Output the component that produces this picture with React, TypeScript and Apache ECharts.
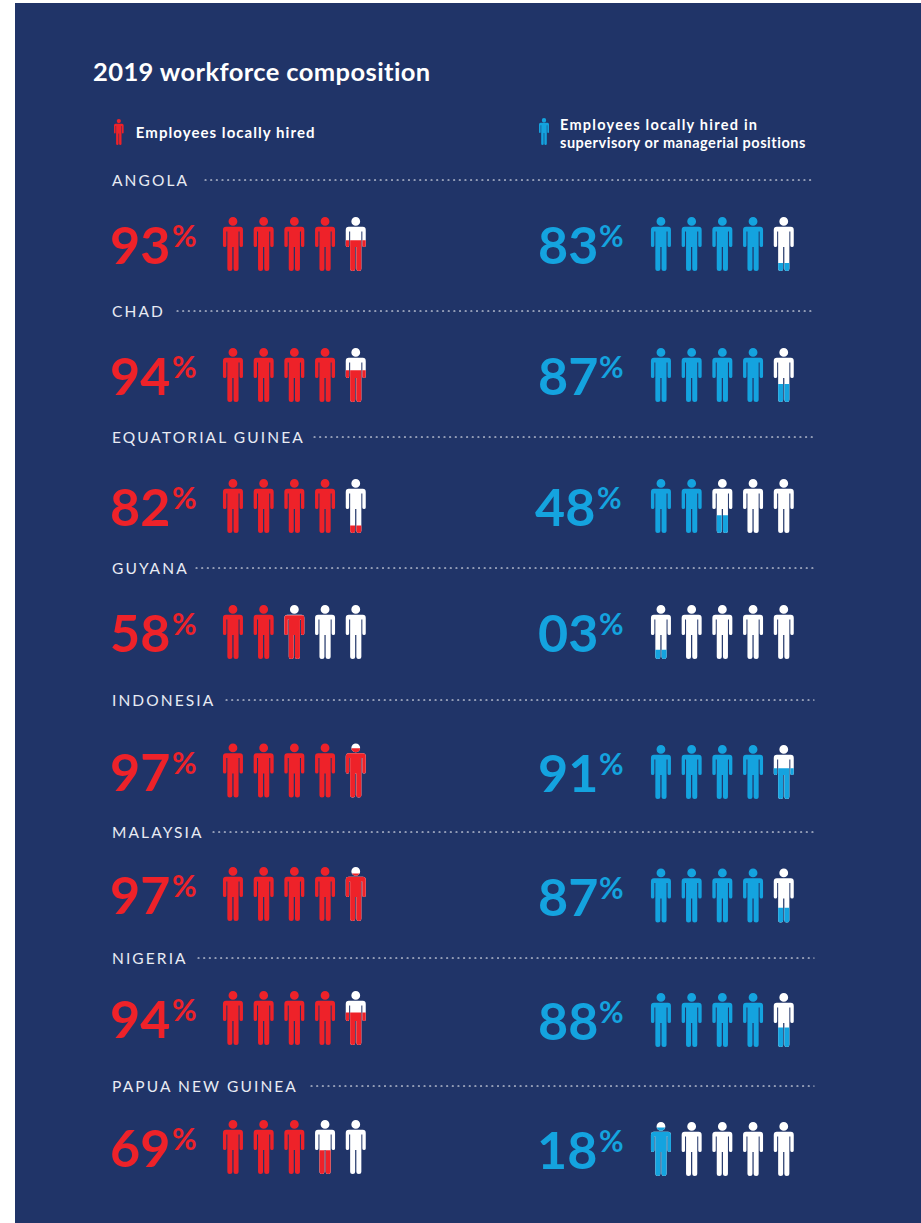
import React, { useEffect, useRef } from "react";
import * as echarts from "echarts";

const countries = ["ANGOLA", "CHAD", "EQUATORIAL GUINEA", "GUYANA", "INDONESIA", "MALAYSIA", "NIGERIA", "PAPUA NEW GUINEA"];
const localHired = [93, 94, 82, 58, 97, 97, 94, 69];
const managerial = [83, 87, 48, 3, 91, 87, 88, 18];
// how far the last, partly coloured figure is filled
const localPartial = [0.57, 0.59, 0.14, 0.81, 0.91, 0.88, 0.6, 0.44];
const managerialPartial = [0.15, 0.335, 0.33, 0.17, 0.57, 0.275, 0.36, 0.9];
const titleText = "2019 workforce composition";
const seriesNames = ["Employees locally hired", "Employees locally hired in\nsupervisory or managerial positions"];

// layout (pixels)
const labelY = [179.5, 310.5, 436.5, 567.5, 699.5, 831.5, 957.5, 1085.5];
const dotStart = [205, 177, 314, 196, 226, 213, 198, 311];
const leftTop = [217, 348, 479, 605, 743.5, 867, 991, 1120];
const rightTop = [217, 348, 479, 605, 745, 868.5, 993, 1122];
const rightNumX = [538, 538, 535, 538, 538, 538, 538, 537];
const rightPctX = [599, 599, 597, 599, 599, 599, 599, 599];

const NAVY = "#203468";
const RED = "#ee2229";
const BLUE = "#14a3df";
const WHITE = "#ffffff";
const FONT = "Lato";
const PERSON_W = 20;

const PERSON_PATH =
  "M10 0A4.4 4.4 0 1 1 10 8.8A4.4 4.4 0 1 1 10 0Z" +
  "M3 9.7H17Q20 9.7 20 13V28.5Q20 30 18.3 30Q16.6 30 16.6 28.5V14.5H15.6V51.5Q15.6 54 13.1 54Q10.6 54 10.6 51.5V30H9.4V51.5Q9.4 54 6.9 54Q4.4 54 4.4 51.5V14.5H3.4V28.5Q3.4 30 1.7 30Q0 30 0 28.5V13Q0 9.7 3 9.7Z";

const renderPerson = (color: string) => (_params: any, api: any) => {
  const i = api.value(0);
  const share = api.value(1);
  const x0 = api.coord([i, 0])[0];
  const x1 = api.coord([i + 1, 0])[0];
  const bottom = api.coord([0, 0])[1];
  const top = api.coord([0, 1])[1];
  const fillY = api.coord([0, share])[1];
  const x = (x0 + x1) / 2 - PERSON_W / 2;
  const shape = { pathData: PERSON_PATH, x, y: top, width: PERSON_W, height: bottom - top, layout: "cover" };
  if (share >= 1) return { type: "path", shape, style: { fill: color } };
  if (share <= 0) return { type: "path", shape, style: { fill: WHITE } };
  return {
    type: "group",
    children: [
      { type: "path", shape, style: { fill: WHITE } },
      {
        type: "path",
        shape,
        style: { fill: color },
        clipPath: { type: "rect", shape: { x: x - 1, y: fillY, width: PERSON_W + 2, height: bottom - fillY + 1 } },
      },
    ],
  };
};

// each of the five figures stands for 20% of the workforce
const figures = (pct: number, partial: number) => {
  const full = Math.floor(pct / 20);
  return [0, 1, 2, 3, 4].map((i) => [i, i < full ? 1 : i === full ? partial : 0]);
};

function buildOption() {
  const grid: any[] = [];
  const xAxis: any[] = [];
  const yAxis: any[] = [];
  const series: any[] = [];
  const graphic: any[] = [
    { type: "rect", z: -10, shape: { x: 15, y: 3, width: 906, height: 1220 }, style: { fill: NAVY } },
    {
      type: "text", x: 93, y: 70.5,
      style: { text: titleText, fill: WHITE, font: `700 25.5px ${FONT}`, textVerticalAlign: "middle" },
    },
  ];

  const addPanel = (pct: number, partial: number, left: number, top: number, color: string, name: string) => {
    const idx = grid.length;
    grid.push({ left, top, width: 153.5, height: 54 });
    xAxis.push({ gridIndex: idx, type: "value", min: 0, max: 5, show: false });
    yAxis.push({ gridIndex: idx, type: "value", min: 0, max: 1, show: false });
    series.push({
      type: "custom", name, xAxisIndex: idx, yAxisIndex: idx, silent: true,
      itemStyle: { color },
      encode: { x: 0, y: 1 },
      renderItem: renderPerson(color),
      data: figures(pct, partial),
    });
  };

  countries.forEach((country, r) => {
    addPanel(localHired[r], localPartial[r], 217.6, leftTop[r], RED, seriesNames[0]);
    addPanel(managerial[r], managerialPartial[r], 645.6, rightTop[r], BLUE, seriesNames[1]);
    graphic.push({
      type: "text", x: 112, y: labelY[r],
      style: { text: country, fill: "#e8ebf3", font: `400 15.5px ${FONT}`, textVerticalAlign: "middle" },
    });
    graphic.push({
      type: "line",
      shape: { x1: dotStart[r], y1: labelY[r] + 0.5, x2: 814, y2: labelY[r] + 0.5 },
      style: { stroke: WHITE, lineWidth: 1.1, lineDash: [1.1, 4.55], lineCap: "round" },
    });
    const num = (v: number, x: number, y: number, color: string) => ({
      type: "text", x, y,
      style: { text: String(v).padStart(2, "0"), fill: color, font: `700 52px ${FONT}`, textVerticalAlign: "middle" },
    });
    const pct = (x: number, y: number, color: string) => ({
      type: "text", x, y,
      style: { text: "%", fill: color, font: `700 30px ${FONT}`, textVerticalAlign: "middle" },
    });
    const ly = leftTop[r] + 27;
    const ry = rightTop[r] + 27;
    graphic.push(num(localHired[r], 110, ly, RED), pct(172, ly - 9, RED));
    graphic.push(num(managerial[r], rightNumX[r], ry, BLUE), pct(rightPctX[r], ry - 9, BLUE));
  });

  const legendIcon = "path://" + PERSON_PATH;
  return {
    animation: false,
    backgroundColor: "#ffffff",
    grid,
    xAxis,
    yAxis,
    series,
    graphic,
    legend: [
      {
        left: 114, top: 119, padding: 0, selectedMode: false, itemWidth: 10, itemHeight: 26,
        icon: legendIcon, data: [seriesNames[0]],
        textStyle: { color: WHITE, fontFamily: FONT, fontWeight: 700, fontSize: 15, padding: [0, 0, 4, 7] },
      },
      {
        left: 539, top: 115, padding: 0, selectedMode: false, itemWidth: 10, itemHeight: 30,
        // an empty sub-path below the figure lifts it slightly against the two text lines
        icon: legendIcon + "M10 60L10 60Z", data: [seriesNames[1]],
        textStyle: { color: WHITE, fontFamily: FONT, fontWeight: 700, fontSize: 14.5, lineHeight: 18, padding: [0, 0, 0, 6] },
      },
    ],
  };
}

// echarts has no tracking option, so it is applied to the rendered text nodes
const trackingFor = (t: string) => {
  if (countries.includes(t)) return "2.1px";
  if (t === titleText) return "0.4px";
  if (t === "Employees locally hired") return "1.05px";
  if (t === "Employees locally hired in") return "1.25px";
  if (t === "supervisory or managerial positions") return "0.52px";
  return "";
};

export default function App() {
  const ref = useRef<HTMLDivElement>(null);
  useEffect(() => {
    document.body.style.margin = "0";
    const chart = echarts.init(ref.current!, undefined, { renderer: "svg" });
    chart.setOption(buildOption() as any);
    ref.current!.querySelectorAll("text").forEach((node) => {
      const spacing = trackingFor((node.textContent || "").trim());
      if (spacing) (node as unknown as HTMLElement).style.letterSpacing = spacing;
    });
    return () => chart.dispose();
  }, []);
  return <div ref={ref} style={{ width: 921, height: 1223 }} />;
}
